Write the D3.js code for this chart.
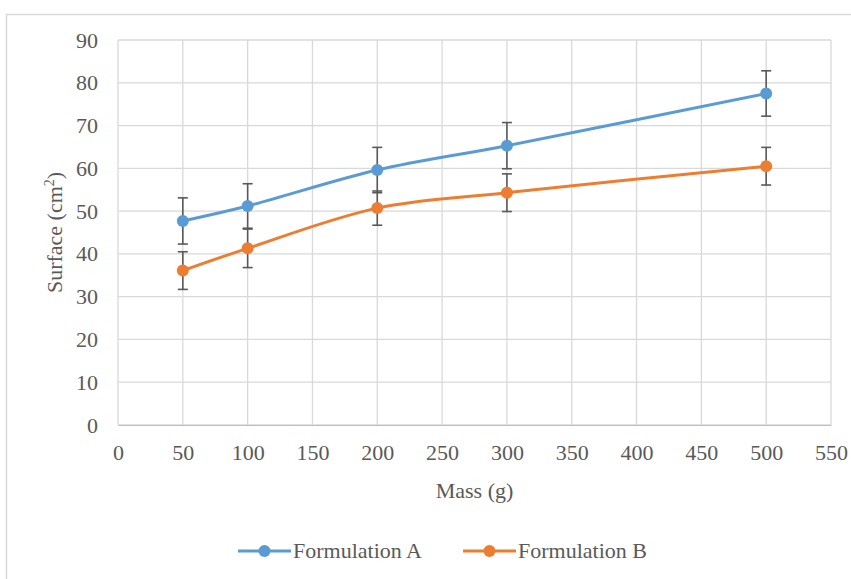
<!DOCTYPE html>
<html>
<head>
<meta charset="utf-8">
<script src="https://cdn.jsdelivr.net/npm/d3@7"></script>
<style>
  body { margin: 0; background: #fff; }
  svg text { font-family: "Liberation Serif", "DejaVu Serif", serif; fill: #595959; }
</style>
</head>
<body>
<svg id="chart" width="851" height="579"></svg>
<script>
// data
var masses = [50, 100, 200, 300, 500];
var formA = [47.7, 51.2, 59.6, 65.3, 77.5];
var formAErr = [5.4, 5.2, 5.3, 5.4, 5.3];
var formB = [36.1, 41.3, 50.7, 54.3, 60.5];
var formBErr = [4.4, 4.5, 4.0, 4.4, 4.4];
var xTicks = [0, 50, 100, 150, 200, 250, 300, 350, 400, 450, 500, 550];
var yTicks = [0, 10, 20, 30, 40, 50, 60, 70, 80, 90];
var seriesNames = ["Formulation A", "Formulation B"];
var seriesColors = ["#5B9BD5", "#ED7D31"];

var svg = d3.select("#chart");

// outer chart frame
svg.append("rect")
  .attr("x", 6.5).attr("y", 14.5)
  .attr("width", 900).attr("height", 700)
  .attr("fill", "none")
  .attr("stroke", "#d9d9d9")
  .attr("stroke-width", 1.5);

var x = d3.scaleLinear().domain([0, 550]).range([118, 831]);
var y = d3.scaleLinear().domain([0, 90]).range([425, 40]);

// grid
svg.append("g").selectAll("line").data(xTicks).join("line")
  .attr("x1", d => x(d)).attr("x2", d => x(d))
  .attr("y1", y(0)).attr("y2", y(90))
  .attr("stroke", "#d9d9d9").attr("stroke-width", 1.3);
svg.append("g").selectAll("line").data(yTicks).join("line")
  .attr("x1", x(0)).attr("x2", x(550))
  .attr("y1", d => y(d)).attr("y2", d => y(d))
  .attr("stroke", "#d9d9d9").attr("stroke-width", 1.3);

// axes labels
var xAxis = d3.axisBottom(x).tickValues(xTicks).tickSize(0).tickPadding(19);
svg.append("g")
  .attr("transform", "translate(0," + y(0) + ")")
  .call(xAxis)
  .call(g => g.select(".domain").attr("stroke", "#bfbfbf"))
  .selectAll("text")
  .style("font-family", "Liberation Serif, serif")
  .attr("font-size", 22).attr("fill", "#595959");

var yAxis = d3.axisLeft(y).tickValues(yTicks).tickSize(0).tickPadding(20);
svg.append("g")
  .attr("transform", "translate(" + x(0) + ",0)")
  .call(yAxis)
  .call(g => g.select(".domain").remove())
  .selectAll("text")
  .style("font-family", "Liberation Serif, serif")
  .attr("font-size", 22).attr("fill", "#595959");

svg.append("text")
  .attr("x", (x(0) + x(550)) / 2).attr("y", 498)
  .attr("text-anchor", "middle")
  .attr("font-size", 22)
  .text("Mass (g)");

var yl = svg.append("text")
  .attr("transform", "translate(62," + y(45) + ") rotate(-90)")
  .attr("text-anchor", "middle")
  .attr("font-size", 22);
yl.append("tspan").text("Surface (cm");
yl.append("tspan").attr("dy", -8).attr("font-size", 14).text("2");
yl.append("tspan").attr("dy", 8).text(")");

var series = [
  { vals: formA, err: formAErr, color: seriesColors[0] },
  { vals: formB, err: formBErr, color: seriesColors[1] }
];

var line = d3.line()
  .x((d, i) => x(masses[i]))
  .y(d => y(d))
  .curve(d3.curveCatmullRom.alpha(0.5));

series.forEach(function (s) {
  svg.append("path")
    .datum(s.vals)
    .attr("d", line)
    .attr("fill", "none")
    .attr("stroke", s.color)
    .attr("stroke-width", 3);
});

// error bars
series.forEach(function (s) {
  var g = svg.append("g").attr("stroke", "#595959").attr("stroke-width", 1.6);
  s.vals.forEach(function (v, i) {
    var cx = x(masses[i]);
    g.append("line").attr("x1", cx).attr("x2", cx)
      .attr("y1", y(v + s.err[i])).attr("y2", y(v - s.err[i]));
    [v + s.err[i], v - s.err[i]].forEach(function (e) {
      g.append("line").attr("x1", cx - 5).attr("x2", cx + 5)
        .attr("y1", y(e)).attr("y2", y(e));
    });
  });
});

// markers
series.forEach(function (s) {
  svg.append("g").selectAll("circle").data(s.vals).join("circle")
    .attr("cx", (d, i) => x(masses[i]))
    .attr("cy", d => y(d))
    .attr("r", 6)
    .attr("fill", s.color);
});

// legend
var legX = [238, 463];
seriesNames.forEach(function (name, i) {
  var g = svg.append("g").attr("transform", "translate(" + legX[i] + ",551)");
  g.append("line").attr("x1", 0).attr("x2", 53).attr("y1", 0).attr("y2", 0)
    .attr("stroke", seriesColors[i]).attr("stroke-width", 3);
  g.append("circle").attr("cx", 26.5).attr("cy", 0).attr("r", 6).attr("fill", seriesColors[i]);
  g.append("text").attr("x", 55).attr("y", 7).attr("font-size", 22).text(name);
});
</script>
</body>
</html>
